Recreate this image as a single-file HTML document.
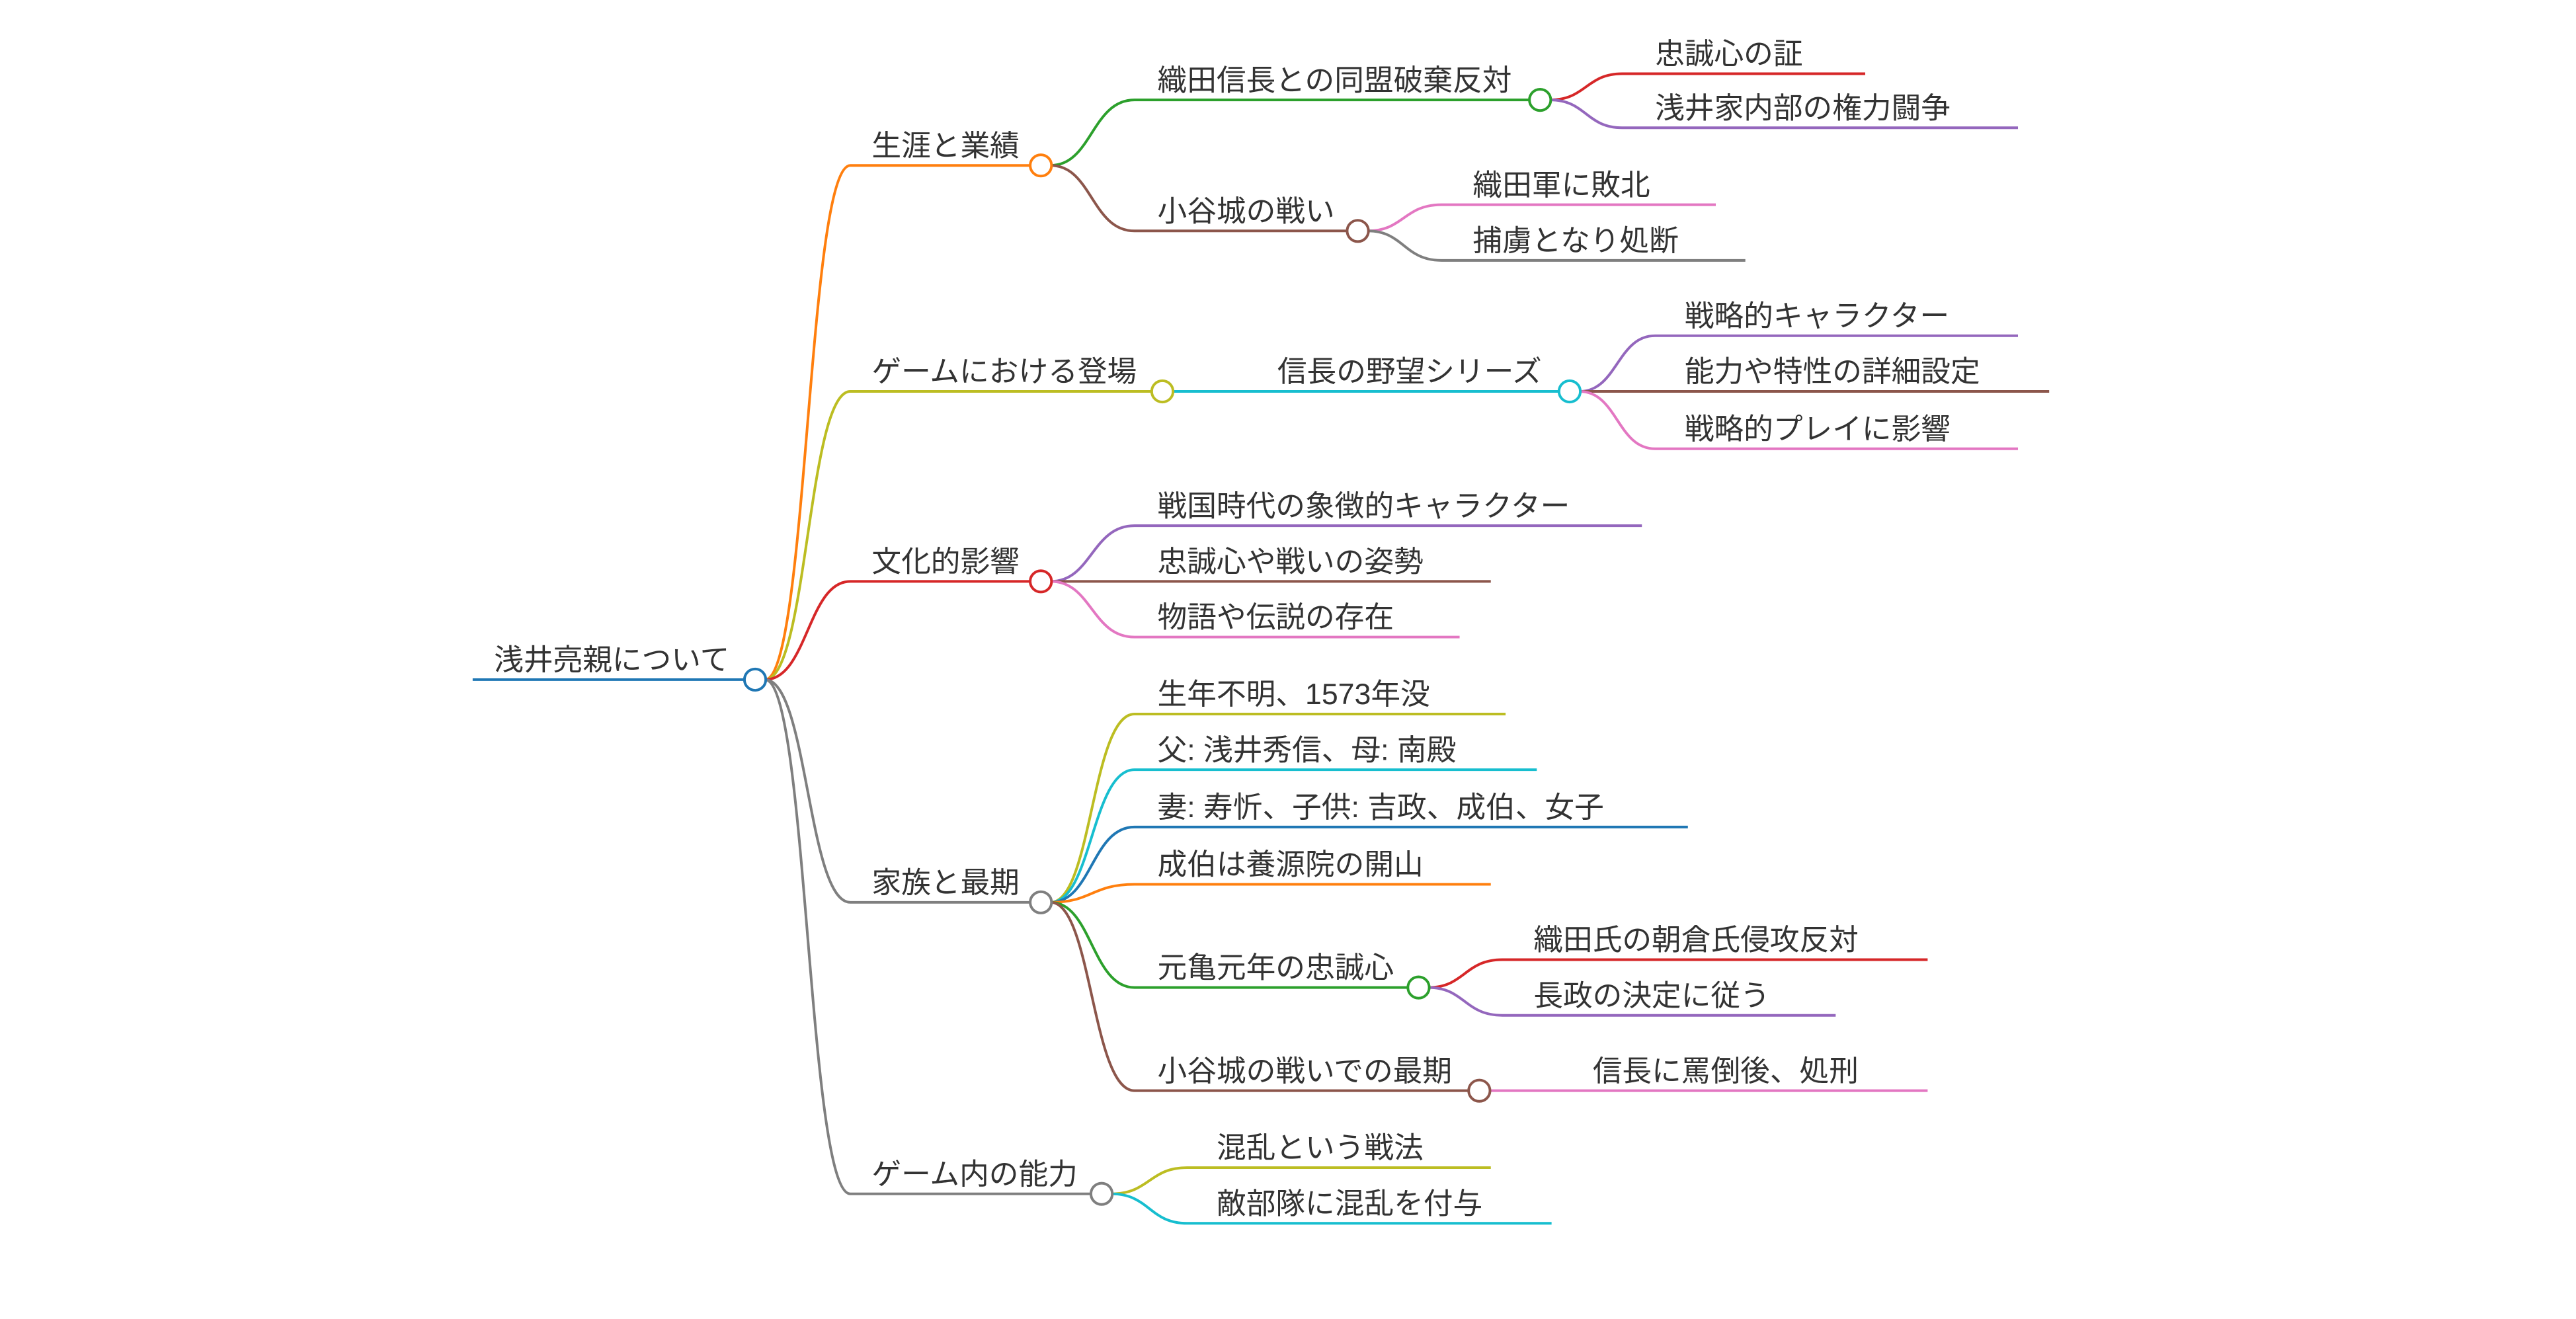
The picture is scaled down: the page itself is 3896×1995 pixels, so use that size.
<!DOCTYPE html>
<html><head><meta charset="utf-8"><style>
html,body{margin:0;padding:0;background:#fff}
svg{display:block}
text{font-family:"Liberation Sans","Noto Sans CJK JP",sans-serif;font-size:18px;fill:#333}
path{fill:none;stroke-width:1.6}
circle{fill:#fff;stroke-width:1.6}
</style></head><body>
<svg width="3896" height="1995" viewBox="0 0 1560 799" preserveAspectRatio="none" xmlns="http://www.w3.org/2000/svg">
<g transform="matrix(0.9945 0 0 0.992 2.8 2.0)">
<path d="M463 413 C489 413 489 99 515 99 H625" stroke="#ff7f0e"/>
<path d="M463 413 C489 413 489 237 515 237 H699" stroke="#bcbd22"/>
<path d="M463 413 C489 413 489 353 515 353 H625" stroke="#d62728"/>
<path d="M463 413 C489 413 489 549 515 549 H625" stroke="#7f7f7f"/>
<path d="M463 413 C489 413 489 727 515 727 H662" stroke="#7f7f7f"/>
<path d="M285 413 H451" stroke="#1f77b4"/>
<path d="M637 99 C662 99 662 59 688 59 H929" stroke="#2ca02c"/>
<path d="M637 99 C662 99 662 139 688 139 H818" stroke="#8c564b"/>
<path d="M941 59 C963 59 963 43 985 43 H1133" stroke="#d62728"/>
<path d="M941 59 C963 59 963 76 985 76 H1226" stroke="#9467bd"/>
<path d="M830 139 C852 139 852 123 875 123 H1042" stroke="#e377c2"/>
<path d="M830 139 C852 139 852 157 875 157 H1060" stroke="#7f7f7f"/>
<path d="M711 237 H947" stroke="#17becf"/>
<path d="M959 237 C982 237 982 203 1005 203 H1226" stroke="#9467bd"/>
<path d="M959 237 H1245" stroke="#8c564b"/>
<path d="M959 237 C982 237 982 272 1005 272 H1226" stroke="#e377c2"/>
<path d="M637 353 C662 353 662 319 688 319 H997" stroke="#9467bd"/>
<path d="M637 353 H905" stroke="#8c564b"/>
<path d="M637 353 C662 353 662 387 688 387 H886" stroke="#e377c2"/>
<path d="M637 549 C662 549 662 434 688 434 H914" stroke="#bcbd22"/>
<path d="M637 549 C662 549 662 468 688 468 H933" stroke="#17becf"/>
<path d="M637 549 C662 549 662 503 688 503 H1025" stroke="#1f77b4"/>
<path d="M637 549 C662 549 662 538 688 538 H905" stroke="#ff7f0e"/>
<path d="M637 549 C662 549 662 601 688 601 H855" stroke="#2ca02c"/>
<path d="M637 549 C662 549 662 664 688 664 H892" stroke="#8c564b"/>
<path d="M867 601 C889 601 889 584 912 584 H1171" stroke="#d62728"/>
<path d="M867 601 C889 601 889 618 912 618 H1115" stroke="#9467bd"/>
<path d="M904 664 H1171" stroke="#e377c2"/>
<path d="M674 727 C697 727 697 711 720 711 H905" stroke="#bcbd22"/>
<path d="M674 727 C697 727 697 745 720 745 H942" stroke="#17becf"/>
<circle cx="457" cy="413" r="6.5" stroke="#1f77b4"/>
<circle cx="631" cy="99" r="6.5" stroke="#ff7f0e"/>
<circle cx="705" cy="237" r="6.5" stroke="#bcbd22"/>
<circle cx="631" cy="353" r="6.5" stroke="#d62728"/>
<circle cx="631" cy="549" r="6.5" stroke="#7f7f7f"/>
<circle cx="668" cy="727" r="6.5" stroke="#7f7f7f"/>
<circle cx="935" cy="59" r="6.5" stroke="#2ca02c"/>
<circle cx="824" cy="139" r="6.5" stroke="#8c564b"/>
<circle cx="953" cy="237" r="6.5" stroke="#17becf"/>
<circle cx="861" cy="601" r="6.5" stroke="#2ca02c"/>
<circle cx="898" cy="664" r="6.5" stroke="#8c564b"/>
<text x="298" y="407">浅井亮親について</text>
<text x="528" y="93">生涯と業績</text>
<text x="528" y="231">ゲームにおける登場</text>
<text x="528" y="347">文化的影響</text>
<text x="528" y="543">家族と最期</text>
<text x="528" y="721">ゲーム内の能力</text>
<text x="702" y="53">織田信長との同盟破棄反対</text>
<text x="702" y="133">小谷城の戦い</text>
<text x="1005" y="37">忠誠心の証</text>
<text x="1005" y="70">浅井家内部の権力闘争</text>
<text x="894" y="117">織田軍に敗北</text>
<text x="894" y="151">捕虜となり処断</text>
<text x="775" y="231">信長の野望シリーズ</text>
<text x="1023" y="197">戦略的キャラクター</text>
<text x="1023" y="231">能力や特性の詳細設定</text>
<text x="1023" y="266">戦略的プレイに影響</text>
<text x="702" y="313">戦国時代の象徴的キャラクター</text>
<text x="702" y="347">忠誠心や戦いの姿勢</text>
<text x="702" y="381">物語や伝説の存在</text>
<text x="702" y="428">生年不明、1573年没</text>
<text x="702" y="462">父: 浅井秀信、母: 南殿</text>
<text x="702" y="497">妻: 寿忻、子供: 吉政、成伯、女子</text>
<text x="702" y="532">成伯は養源院の開山</text>
<text x="702" y="595">元亀元年の忠誠心</text>
<text x="702" y="658">小谷城の戦いでの最期</text>
<text x="931" y="578">織田氏の朝倉氏侵攻反対</text>
<text x="931" y="612">長政の決定に従う</text>
<text x="967" y="658">信長に罵倒後、処刑</text>
<text x="738" y="705">混乱という戦法</text>
<text x="738" y="739">敵部隊に混乱を付与</text>
</g>
</svg>
</body></html>
